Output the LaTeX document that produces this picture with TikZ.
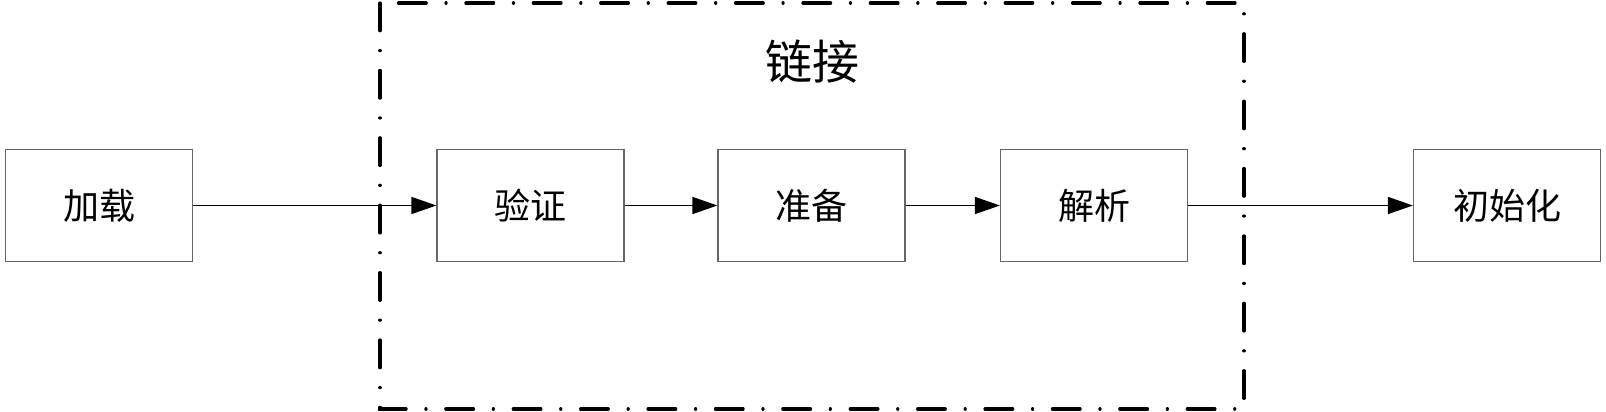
\documentclass[tikz,border=0pt]{standalone}
\usepackage{fontspec}
\newfontfamily\cjk{Noto Sans CJK SC}
\usetikzlibrary{arrows.meta}
\begin{document}
\begin{tikzpicture}[x=1pt,y=-1pt,
  stagebox/.style={draw=black!60, line width=1.2pt, minimum width=187pt, minimum height=112pt, inner sep=0pt, font=\cjk\fontsize{36}{42}\selectfont},
  flow/.style={line width=1.5pt, -{Triangle[length=25pt,width=17pt]}},
  groupline/.style={line width=3.2pt, line cap=round, dash pattern=on 27.7pt off 19.8pt on 0.1pt off 19.8pt}]
\useasboundingbox (0,0) rectangle (1606,412);
\draw[groupline] (380,3) rectangle (1244,409);
\node[font=\cjk\fontsize{47}{52}\selectfont] (title) at (812,62) {链接};
\node[stagebox] (load) at (99,205.5) {加载};
\node[stagebox] (verify) at (530.5,205.5) {验证};
\node[stagebox] (prepare) at (811.5,205.5) {准备};
\node[stagebox] (resolve) at (1094,205.5) {解析};
\node[stagebox] (init) at (1507,205.5) {初始化};
\draw[flow] (load) -- (verify);
\draw[flow] (verify) -- (prepare);
\draw[flow] (prepare) -- (resolve);
\draw[flow] (resolve) -- (init);
\end{tikzpicture}
\end{document}
